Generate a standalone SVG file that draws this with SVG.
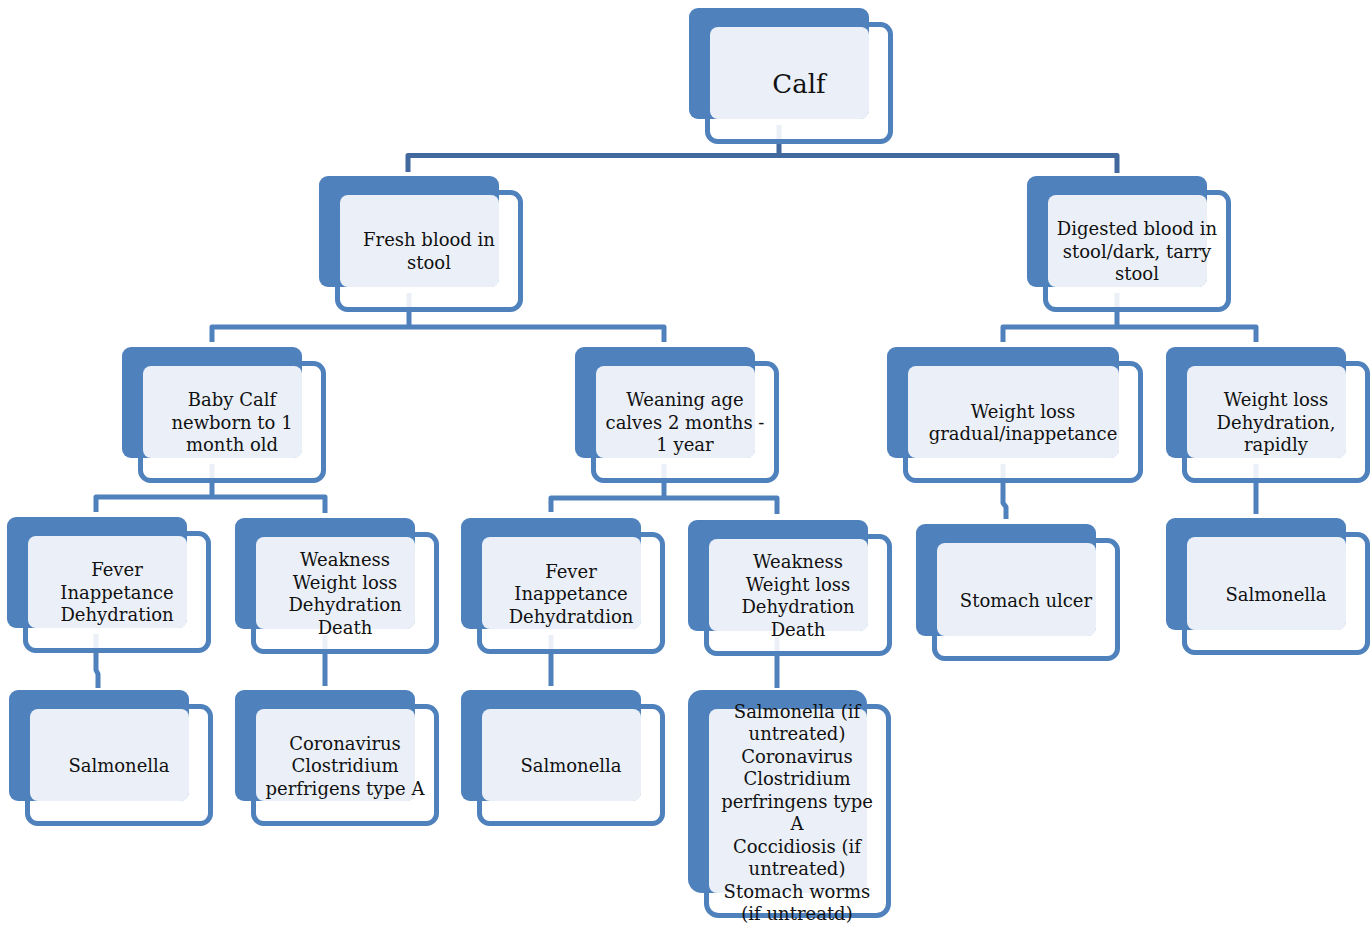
<svg xmlns="http://www.w3.org/2000/svg" width="1371" height="926" viewBox="0 0 1371 926">
<defs>
<style>
.bk{fill:#4F81BD}
.ol{fill:#FFFFFF;stroke:#4F81BD;stroke-width:5}
.lt{fill:#EBF0F8}
.lb{fill:#EBF0F8}
.cn{fill:none;stroke:#4F81BD;stroke-width:5;stroke-linejoin:round}
.cd{fill:none;stroke:#41699E;stroke-width:5;stroke-linejoin:round}
text{font-family:"DejaVu Serif","Liberation Serif",serif;font-size:18px;fill:#111111;text-anchor:middle}
.big{font-size:26px}
</style>
</defs>
<rect width="1371" height="926" fill="#FFFFFF"/>
<g id="connectors">
<path class="cd" d="M779,143 V155.5 M408,172 V155.5 H1117 V173"/>
<path class="cn" d="M409,311 V327 M212,342 V327 H664 V342"/>
<path class="cn" d="M1117,311 V327 M1003,342 V327 H1256 V342"/>
<path class="cn" d="M212,482 V497 M96,512 V497 H325 V513"/>
<path class="cn" d="M664,482 V498 M551,512 V498 H777 V514"/>
<path class="cn" d="M96,653 V670 L98,674 V688"/>
<path class="cn" d="M325,653 V686"/>
<path class="cn" d="M551,654 V686"/>
<path class="cn" d="M777,655 V688"/>
<path class="cn" d="M1003,482 V503 L1006,507 V519"/>
<path class="cn" d="M1256,482 V514"/>
</g>
<g id="n-calf">
<rect class="ol" x="707.5" y="24.5" width="183" height="117" rx="10"/>
<rect class="bk" x="689" y="8" width="180" height="111" rx="9"/>
<rect class="lt" x="710" y="27" width="159" height="92" rx="8"/>
<rect class="lb" x="776.5" y="125" width="5" height="14"/>
<text class="big" x="799" y="93">Calf</text>
</g>
<g id="n-fresh">
<rect class="ol" x="337.5" y="192.5" width="183" height="117" rx="10"/>
<rect class="bk" x="319" y="176" width="180" height="111" rx="9"/>
<rect class="lt" x="340" y="195" width="159" height="92" rx="8"/>
<rect class="lb" x="406.5" y="293" width="5" height="14"/>
<text x="429" y="246">Fresh blood in</text>
<text x="429" y="268.5">stool</text>
</g>
<g id="n-digested">
<rect class="ol" x="1045.5" y="192.5" width="183" height="117" rx="10"/>
<rect class="bk" x="1027" y="176" width="180" height="111" rx="9"/>
<rect class="lt" x="1048" y="195" width="159" height="92" rx="8"/>
<rect class="lb" x="1114.5" y="293" width="5" height="14"/>
<text x="1137" y="235">Digested blood in</text>
<text x="1137" y="257.5">stool/dark, tarry</text>
<text x="1137" y="280">stool</text>
</g>
<g id="n-baby">
<rect class="ol" x="140.5" y="363.5" width="183" height="117" rx="10"/>
<rect class="bk" x="122" y="347" width="180" height="111" rx="9"/>
<rect class="lt" x="143" y="366" width="159" height="92" rx="8"/>
<rect class="lb" x="209.5" y="464" width="5" height="14"/>
<text x="232" y="406">Baby Calf</text>
<text x="232" y="428.5">newborn to 1</text>
<text x="232" y="451">month old</text>
</g>
<g id="n-weaning">
<rect class="ol" x="593.5" y="363.5" width="183" height="117" rx="10"/>
<rect class="bk" x="575" y="347" width="180" height="111" rx="9"/>
<rect class="lt" x="596" y="366" width="159" height="92" rx="8"/>
<rect class="lb" x="661.5" y="464" width="5" height="14"/>
<text x="685" y="406">Weaning age</text>
<text x="685" y="428.5">calves 2 months -</text>
<text x="685" y="451">1 year</text>
</g>
<g id="n-wlg">
<rect class="ol" x="905.5" y="363.5" width="235" height="117" rx="10"/>
<rect class="bk" x="887" y="347" width="232" height="111" rx="9"/>
<rect class="lt" x="908" y="366" width="211" height="92" rx="8"/>
<rect class="lb" x="1000.5" y="464" width="5" height="14"/>
<text x="1023" y="417.5">Weight loss</text>
<text x="1023" y="440">gradual/inappetance</text>
</g>
<g id="n-wlr">
<rect class="ol" x="1184.5" y="363.5" width="183" height="117" rx="10"/>
<rect class="bk" x="1166" y="347" width="180" height="111" rx="9"/>
<rect class="lt" x="1187" y="366" width="159" height="92" rx="8"/>
<rect class="lb" x="1253.5" y="464" width="5" height="14"/>
<text x="1276" y="406">Weight loss</text>
<text x="1276" y="428.5">Dehydration,</text>
<text x="1276" y="451">rapidly</text>
</g>
<g id="n-fever1">
<rect class="ol" x="25.5" y="533.5" width="183" height="117" rx="10"/>
<rect class="bk" x="7" y="517" width="180" height="111" rx="9"/>
<rect class="lt" x="28" y="536" width="159" height="92" rx="8"/>
<rect class="lb" x="93.5" y="634" width="5" height="14"/>
<text x="117" y="576">Fever</text>
<text x="117" y="598.5">Inappetance</text>
<text x="117" y="621">Dehydration</text>
</g>
<g id="n-weak1">
<rect class="ol" x="253.5" y="534.5" width="183" height="117" rx="10"/>
<rect class="bk" x="235" y="518" width="180" height="111" rx="9"/>
<rect class="lt" x="256" y="537" width="159" height="92" rx="8"/>
<rect class="lb" x="322.5" y="635" width="5" height="14"/>
<text x="345" y="566">Weakness</text>
<text x="345" y="588.5">Weight loss</text>
<text x="345" y="611">Dehydration</text>
<text x="345" y="633.5">Death</text>
</g>
<g id="n-fever2">
<rect class="ol" x="479.5" y="534.5" width="183" height="117" rx="10"/>
<rect class="bk" x="461" y="518" width="180" height="111" rx="9"/>
<rect class="lt" x="482" y="537" width="159" height="92" rx="8"/>
<rect class="lb" x="548.5" y="635" width="5" height="14"/>
<text x="571" y="577.5">Fever</text>
<text x="571" y="600">Inappetance</text>
<text x="571" y="622.5">Dehydratdion</text>
</g>
<g id="n-weak2">
<rect class="ol" x="706.5" y="536.5" width="183" height="117" rx="10"/>
<rect class="bk" x="688" y="520" width="180" height="111" rx="9"/>
<rect class="lt" x="709" y="539" width="159" height="92" rx="8"/>
<rect class="lb" x="774.5" y="637" width="5" height="14"/>
<text x="798" y="568">Weakness</text>
<text x="798" y="590.5">Weight loss</text>
<text x="798" y="613">Dehydration</text>
<text x="798" y="635.5">Death</text>
</g>
<g id="n-stomach">
<rect class="ol" x="934.5" y="540.5" width="183" height="118" rx="10"/>
<rect class="bk" x="916" y="524" width="180" height="112" rx="9"/>
<rect class="lt" x="937" y="543" width="159" height="93" rx="8"/>
<text x="1026" y="606.5">Stomach ulcer</text>
</g>
<g id="n-salm-r">
<rect class="ol" x="1184.5" y="534.5" width="183" height="118" rx="10"/>
<rect class="bk" x="1166" y="518" width="180" height="112" rx="9"/>
<rect class="lt" x="1187" y="537" width="159" height="93" rx="8"/>
<text x="1276" y="600.5">Salmonella</text>
</g>
<g id="n-salm1">
<rect class="ol" x="27.5" y="706.5" width="183" height="117" rx="10"/>
<rect class="bk" x="9" y="690" width="180" height="111" rx="9"/>
<rect class="lt" x="30" y="709" width="159" height="92" rx="8"/>
<text x="119" y="771.5">Salmonella</text>
</g>
<g id="n-corona">
<rect class="ol" x="253.5" y="706.5" width="183" height="117" rx="10"/>
<rect class="bk" x="235" y="690" width="180" height="111" rx="9"/>
<rect class="lt" x="256" y="709" width="159" height="92" rx="8"/>
<text x="345" y="749.5">Coronavirus</text>
<text x="345" y="772">Clostridium</text>
<text x="345" y="794.5">perfrigens type A</text>
</g>
<g id="n-salm2">
<rect class="ol" x="479.5" y="706.5" width="183" height="117" rx="10"/>
<rect class="bk" x="461" y="690" width="180" height="111" rx="9"/>
<rect class="lt" x="482" y="709" width="159" height="92" rx="8"/>
<text x="571" y="771.5">Salmonella</text>
</g>
<g id="n-causes">
<rect class="ol" x="706.5" y="706.5" width="182" height="209" rx="12"/>
<rect class="bk" x="688" y="690" width="179" height="203" rx="14"/>
<rect class="lt" x="709" y="709" width="158" height="184" rx="8"/>
<text x="797" y="717.5">Salmonella (if</text>
<text x="797" y="740">untreated)</text>
<text x="797" y="762.5">Coronavirus</text>
<text x="797" y="785">Clostridium</text>
<text x="797" y="807.5">perfringens type</text>
<text x="797" y="830">A</text>
<text x="797" y="852.5">Coccidiosis (if</text>
<text x="797" y="875">untreated)</text>
<text x="797" y="897.5">Stomach worms</text>
<text x="797" y="920">(if untreatd)</text>
</g>
</svg>
